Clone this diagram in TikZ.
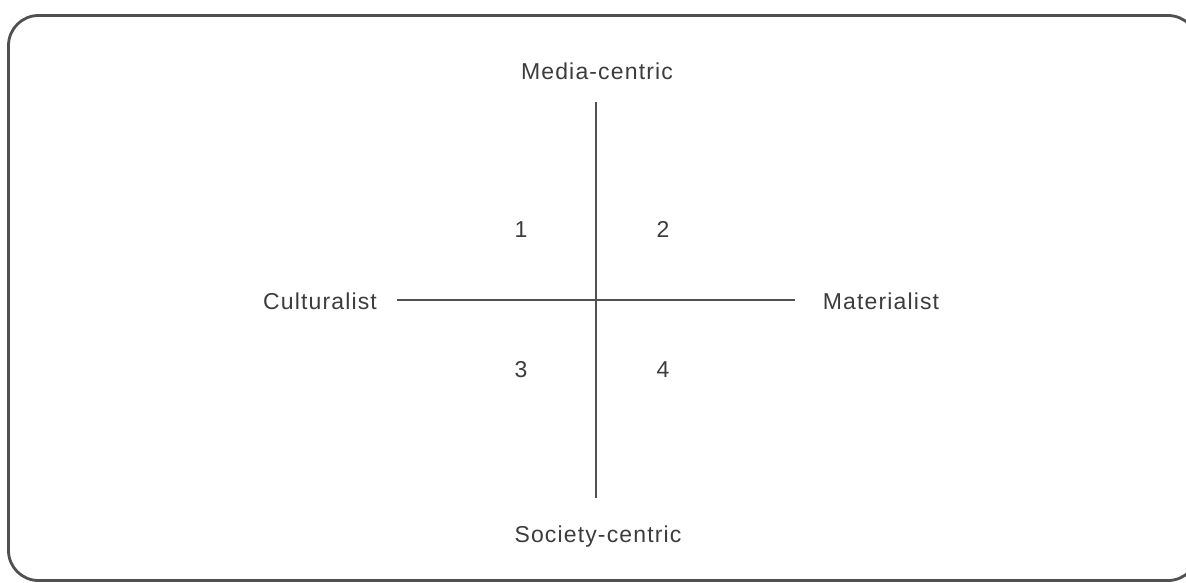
\documentclass[tikz,border=0pt]{standalone}
\usepackage{fontspec}
\setmainfont{Liberation Sans}[LetterSpace=5]
\definecolor{ink}{HTML}{3C3C3C}
\definecolor{rule}{HTML}{505050}
\begin{document}
\begin{tikzpicture}[x=1pt,y=-1pt,
  lbl/.style={font=\fontsize{23}{27}\selectfont, text=ink, anchor=base, inner sep=0pt},
  axis/.style={draw=rule, line width=1.4pt},
  frame/.style={draw=rule, line width=2.8pt, rounded corners=30pt}]
\useasboundingbox (0,0) rectangle (1186,582);
\clip (0,0) rectangle (1186,582);
\path[frame] (8.5,15.5) rectangle (1198,580.5);
% labels
\node[lbl] (top) at (597,79) {Media-centric};
\node[lbl] (bot) at (598,542) {Society-centric};
\node[lbl] (left) at (320,309) {Culturalist};
\node[lbl] (right) at (881,309) {Materialist};
\node[lbl] (q1) at (521,237) {1};
\node[lbl] (q2) at (663,237) {2};
\node[lbl] (q3) at (521,377) {3};
\node[lbl] (q4) at (663,377) {4};
% axes
\coordinate (vt) at (596,102);
\coordinate (vb) at (596,498);
\coordinate (hl) at (397,300);
\coordinate (hr) at (795,300);
\draw[axis] (vt) -- (vb);
\draw[axis] (hl) -- (hr);
\end{tikzpicture}
\end{document}
